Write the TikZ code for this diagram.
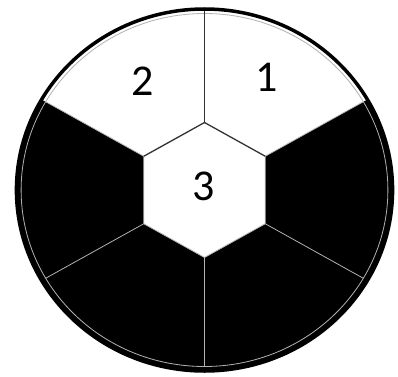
\documentclass[tikz,border=0pt]{standalone}
\usepackage{fontspec}
\setmainfont{Carlito}
\tikzset{
    darkcut/.style={line width=1.3pt, draw=black!80},
    lightcut/.style={line width=0.8pt, draw=white!70!black},
    numlabel/.style={inner sep=0pt, font=\fontsize{44}{44}\selectfont}
}
\begin{document}
\begin{tikzpicture}[x=1pt, y=1pt]
    \useasboundingbox (0,0) rectangle (398,376);
    \begin{scope}[shift={(204.5,186)}, xscale=1.039]
        % Disc and white parts
        \fill[black] (0,0) circle (181);
        \fill[white] (30:67.5) -- (30:181) arc (30:150:181) -- (150:67.5) -- cycle;
        \fill[white] (30:67.5) \foreach \a in {90,150,...,330} { -- (\a:67.5) } -- cycle;

        % Splits between black sectors
        \draw[lightcut] (0,0) circle (176.5);
        \foreach \a in {150,210,270,330,30} {
            \draw[lightcut] (\a:67.5) -- (\a:176.5);
        }
        \draw[lightcut] (150:67.5) -- (210:67.5) -- (270:67.5) -- (330:67.5) -- (30:67.5);

        % Splits between white parts
        \draw[darkcut] (90:67.5) -- (90:181);
        \draw[darkcut] (30:67.5) -- (90:67.5) -- (150:67.5);

        % Rim
        \draw[line width=3.5pt] (0,0) circle (181);
    \end{scope}

    % Labels
    \node[numlabel] (one) at (267,299) {1};
    \node[numlabel] (two) at (142.5,295) {2};
    \node[numlabel] (three) at (203.5,190) {3};
\end{tikzpicture}
\end{document}
